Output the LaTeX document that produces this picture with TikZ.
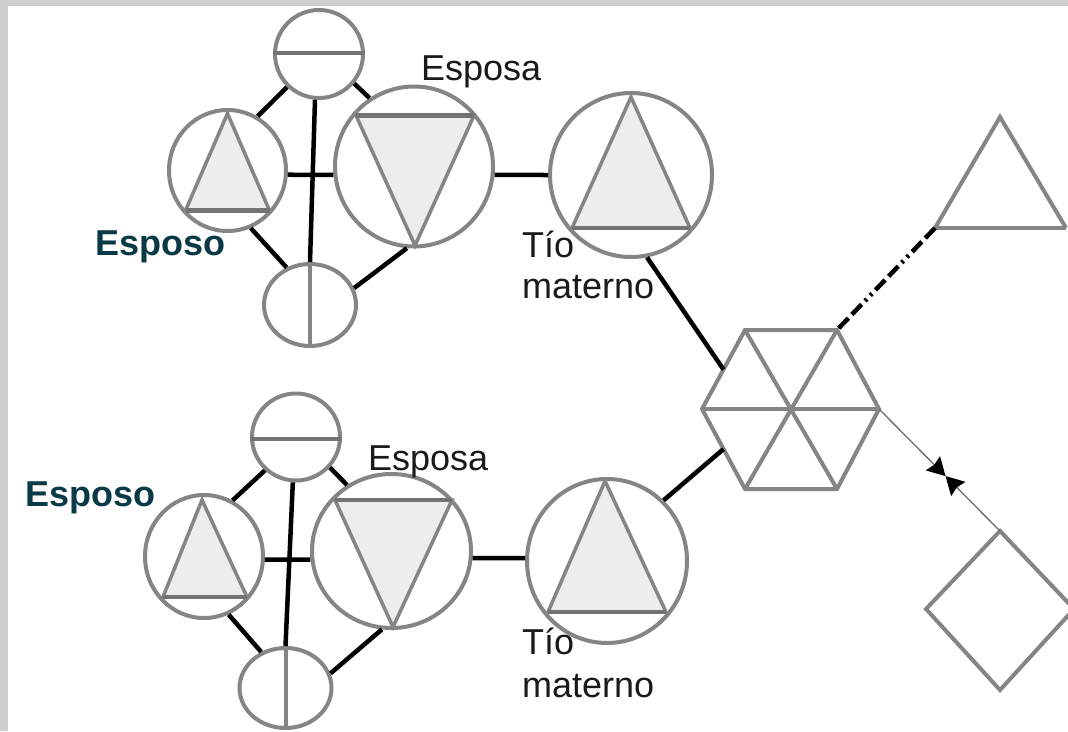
\documentclass[tikz,border=0pt]{standalone}
\usepackage{fontspec}
\setmainfont{Liberation Sans}
\usetikzlibrary{shapes.geometric,arrows.meta,calc}
\definecolor{ringgray}{HTML}{858585}
\definecolor{bargray}{HTML}{737373}
\definecolor{tfill}{HTML}{EDEDED}
\definecolor{esposoc}{HTML}{0B3A47}
\definecolor{txt}{HTML}{1A1A1A}
\definecolor{band}{HTML}{CFCFCF}
\begin{document}
\begin{tikzpicture}[x=1pt,y=-1pt,
  ring/.style={draw=ringgray,line width=4pt,ellipse,inner sep=0pt,fill=white},
  tri/.style={draw=ringgray,line width=3.5pt,fill=tfill,line join=miter},
  bar/.style={draw=bargray,line width=4.5pt},
  tie/.style={draw=black,line width=4.5pt},
  shapeline/.style={draw=ringgray,line width=4pt,line join=miter},
  lab/.style={font=\fontsize{36}{41}\selectfont,text=txt,inner sep=0pt,anchor=base west},
  esposo/.style={lab,font=\fontsize{36}{41}\selectfont\bfseries,text=esposoc},
  thinlink/.style={draw=ringgray!80!black,line width=1.3pt},
  tip/.style={-{Stealth[length=18pt,width=20pt,inset=2pt,color=black]}},
]
\useasboundingbox (0,0) rectangle (1068,731);
\clip (0,0) rectangle (1068,731);
\fill[white] (0,0) rectangle (1068,731);
\fill[band] (0,0) rectangle (1068,6);
\fill[band] (0,0) rectangle (8,731);

% ---------- top cluster ----------
\node[ring,minimum width=88pt,minimum height=88pt] (A1) at (319,54) {};
\node[ring,minimum width=117pt,minimum height=121pt] (B1) at (227.5,170.5) {};
\node[ring,minimum width=158pt,minimum height=160pt] (C1) at (414,166.5) {};
\node[ring,minimum width=92pt,minimum height=82pt] (D1) at (310,305) {};
\node[ring,minimum width=162pt,minimum height=164pt] (E1) at (631,175) {};

\draw[bar] ($(A1.west)+(0,-1)$) -- ($(A1.east)+(0,-1)$);
\draw[shapeline] (D1.north) -- (D1.south);
\draw[tri] ($(B1)+(0,-57)$) -- ($(B1)+(42,40)$) -- ($(B1)+(-42,40)$) -- cycle;
\draw[bar] ($(B1)+(-42,40)$) -- ($(B1)+(42,40)$);
\draw[tri] ($(C1)+(-58,-51)$) -- ($(C1)+(60,-51)$) -- ($(C1)+(1,79)$) -- cycle;
\draw[bar] ($(C1)+(-58,-51)$) -- ($(C1)+(60,-51)$);
\draw[tri] ($(E1)+(0,-78)$) -- ($(E1)+(59,53)$) -- ($(E1)+(-59,53)$) -- cycle;
\draw[bar] ($(E1)+(-59,53)$) -- ($(E1)+(59,53)$);

\draw[tie] (B1.61) -- (A1.226);
\draw[tie] (A1.320) -- (C1.123.5);
\draw[tie] (B1.-4) -- (C1.186);
\draw[tie] (B1.292) -- (D1.122);
\draw[tie] (C1.265) -- (D1.21);
\draw[tie] (A1.265) -- (D1.north);
\draw[tie] (C1.-6) -- (E1.west);

% ---------- bottom cluster ----------
\node[ring,minimum width=88pt,minimum height=87pt] (A2) at (296,437) {};
\node[ring,minimum width=118pt,minimum height=123pt] (B2) at (204,556.5) {};
\node[ring,minimum width=159pt,minimum height=154pt] (C2) at (391.5,551) {};
\node[ring,minimum width=92pt,minimum height=80pt] (D2) at (285.5,688) {};
\node[ring,minimum width=160pt,minimum height=164pt] (E2) at (607,561) {};

\draw[bar] ($(A2.west)+(0,2)$) -- ($(A2.east)+(0,2)$);
\draw[shapeline] (D2.north) -- (D2.south);
\draw[tri] ($(B2)+(-2,-56.5)$) -- ($(B2)+(43,40.5)$) -- ($(B2)+(-41,40.5)$) -- cycle;
\draw[bar] ($(B2)+(-41,40.5)$) -- ($(B2)+(43,40.5)$);
\draw[tri] ($(C2)+(-56.5,-51)$) -- ($(C2)+(60.5,-51)$) -- ($(C2)+(1.5,76)$) -- cycle;
\draw[bar] ($(C2)+(-56.5,-51)$) -- ($(C2)+(60.5,-51)$);
\draw[tri] ($(E2)+(-2,-80)$) -- ($(E2)+(59,51)$) -- ($(E2)+(-59,51)$) -- cycle;
\draw[bar] ($(E2)+(-59,51)$) -- ($(E2)+(59,51)$);

\draw[tie] (B2.63) -- (A2.227);
\draw[tie] (A2.318) -- (C2.124);
\draw[tie] (B2.-3.3) -- (C2.186);
\draw[tie] (B2.293) -- (D2.124);
\draw[tie] (C2.263) -- (D2.18);
\draw[tie] (A2.266) -- (D2.north);
\draw[tie] (C2.-5.4) -- (E2.178);

% ---------- hexagon ----------
\coordinate (hL) at (702,409);
\coordinate (hTL) at (745,330);
\coordinate (hTR) at (837,330);
\coordinate (hR) at (879,409);
\coordinate (hBR) at (837,489);
\coordinate (hBL) at (745,489);
\draw[shapeline] (hL) -- (hTL) -- (hTR) -- (hR) -- (hBR) -- (hBL) -- cycle;
\draw[shapeline] (hL) -- (hR);
\draw[shapeline] (hTL) -- (hBR);
\draw[shapeline] (hTR) -- (hBL);
\coordinate (hNW) at ($(hL)!0.5!(hTL)$);
\coordinate (hSW) at ($(hL)!0.5!(hBL)$);
\draw[tie] (E1.281) -- (hNW);
\draw[tie] (E2.47) -- (hSW);

% ---------- right shapes ----------
\coordinate (tTop) at (1000,117);
\coordinate (tBL) at (935,228);
\coordinate (tBR) at (1066,228);
\draw[shapeline] (tBL) -- (tTop) -- (tBR);
\draw[bar,draw=ringgray] (tBL) -- (tBR);

\coordinate (dTop) at (1000,531);
\coordinate (dLeft) at (926,609);
\coordinate (dBot) at (1000,690);
\coordinate (dRight) at (1074,609);
\draw[shapeline] (dTop) -- (dLeft) -- (dBot) -- (dRight) -- cycle;

\draw[black,line width=4.5pt,dash pattern=on 14pt off 5pt on 14pt off 5pt on 2.5pt off 5pt on 2.5pt off 5pt] (tBL) -- (hTR);

\coordinate (amid) at ($(hR)!0.55!(dTop)$);
\draw[thinlink,tip] (hR) -- (amid);
\draw[thinlink,tip] (dTop) -- (amid);

% ---------- labels ----------
\node[lab] (esposa1) at (421,80) {Esposa};
\node[esposo] (esposo1) at (95,255) {Esposo};
\node[lab] (tio1) at (522,257) {Tío};
\node[lab] (materno1) at (522,298) {materno};
\node[lab] (esposa2) at (368,470) {Esposa};
\node[esposo] (esposo2) at (25,506) {Esposo};
\node[lab] (tio2) at (522,654) {Tío};
\node[lab] (materno2) at (522,697) {materno};
\end{tikzpicture}
\end{document}
